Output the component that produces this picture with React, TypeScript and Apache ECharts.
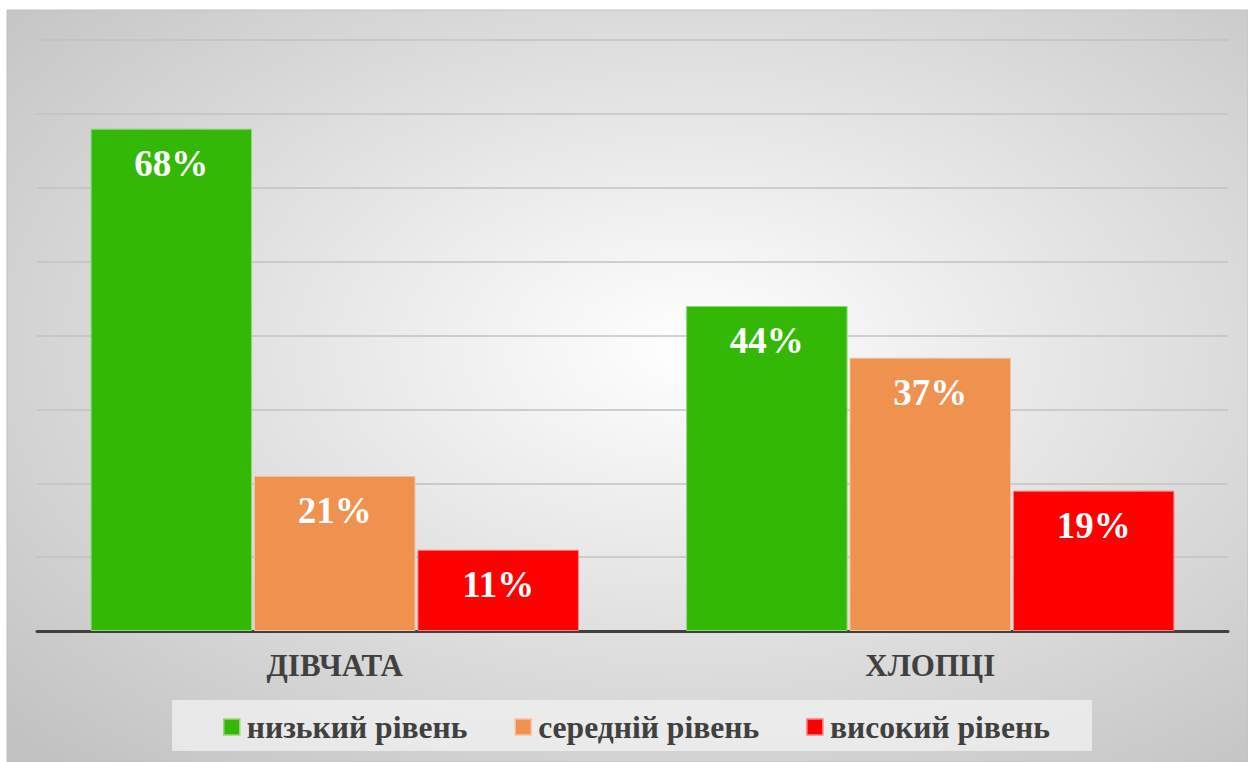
import React, { useEffect, useRef } from "react";
import * as echarts from "echarts";

const categories = ["ДІВЧАТА", "ХЛОПЦІ"];
const seriesNames = ["низький рівень", "середній рівень", "високий рівень"];
const lowLevel = [68, 44];
const midLevel = [21, 37];
const highLevel = [11, 19];
const colors = ["#33B905", "#EF914F", "#FF0000"];
const borderColors = ["#8ED97A", "#F6C2A0", "#FF8080"];

const FONT = "Times New Roman, Liberation Serif, DejaVu Serif, serif";

export default function App() {
  const ref = useRef<HTMLDivElement>(null);
  useEffect(() => {
    if (!ref.current) return;
    const chart = echarts.init(ref.current, undefined, { renderer: "svg" });
    const values = [lowLevel, midLevel, highLevel];
    chart.setOption({
      animation: false,
      backgroundColor: "#ffffff",
      textStyle: { fontFamily: FONT },
      graphic: [
        {
          type: "rect",
          z: -10,
          silent: true,
          shape: { x: 7, y: 10, width: 1241, height: 752 },
          style: {
            fill: new echarts.graphic.RadialGradient(0.55, 0.45, 0.75, [
              { offset: 0, color: "#ffffff" },
              { offset: 1, color: "#c2c2c2" },
            ]),
            stroke: "#c0c0c0",
            lineWidth: 1,
          },
        },
        {
          type: "rect",
          z: -5,
          silent: true,
          shape: { x: 172, y: 700, width: 920, height: 51 },
          style: { fill: "rgba(242,242,242,0.75)" },
        },
      ],
      grid: { left: 37, right: 20, top: 40, bottom: 131, containLabel: false },
      legend: {
        left: 218,
        top: 706,
        itemWidth: 16,
        itemHeight: 16,
        itemGap: 47,
        data: seriesNames.map((n, i) => ({
          name: n,
          icon: "rect",
          itemStyle: { color: colors[i], borderColor: borderColors[i], borderWidth: 1.5 },
        })),
        textStyle: {
          fontFamily: FONT,
          fontWeight: "bold",
          fontSize: 31.6,
          color: "#404040",
          padding: [0, 0, 0, 2],
        },
      },
      xAxis: {
        type: "category",
        data: categories,
        axisLine: { lineStyle: { color: "#404040", width: 3 } },
        axisTick: { show: false },
        axisLabel: {
          margin: 19,
          fontFamily: FONT,
          fontWeight: "bold",
          fontSize: 31,
          color: "#404040",
        },
      },
      yAxis: {
        type: "value",
        min: 0,
        max: 80,
        interval: 10,
        axisLabel: { show: false },
        axisLine: { show: false },
        axisTick: { show: false },
        splitLine: { lineStyle: { color: "#c2c2c2", width: 1.5 } },
      },
      series: seriesNames.map((n, i) => ({
        name: n,
        type: "bar",
        data: values[i],
        barCategoryGap: "18%",
        barGap: "1.2%",
        itemStyle: { color: colors[i], borderColor: borderColors[i], borderWidth: 1 },
        label: {
          show: true,
          position: "insideTop",
          distance: 16,
          formatter: "{c}%",
          fontFamily: FONT,
          fontWeight: "bold",
          fontSize: 37,
          color: "#ffffff",
        },
      })),
    });
    return () => chart.dispose();
  }, []);
  return (
    <div
      ref={ref}
      style={{ position: "absolute", left: 0, top: 0, width: 1248, height: 762 }}
    />
  );
}
